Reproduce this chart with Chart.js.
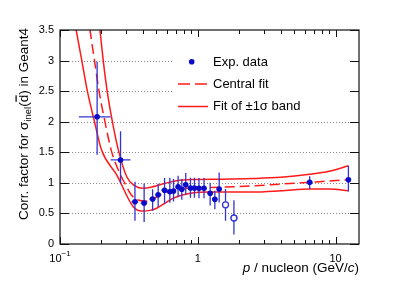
<!DOCTYPE html>
<html lang="en">
<head>
  <meta charset="UTF-8">
  <title>Correction factor</title>
  <script src="https://cdn.jsdelivr.net/npm/chart.js@4.4.1/dist/chart.umd.min.js"></script>
  <style>
    * { margin: 0; padding: 0; }
    body { background: #fff; width: 399px; height: 288px; overflow: hidden; }
  </style>
</head>
<body>
  <canvas id="corr" width="399" height="288"></canvas>

  <script>
    // measured points (filled markers)
    const momentum = [0.186, 0.275, 0.350, 0.408, 0.470, 0.516, 0.574, 0.627, 0.667, 0.720, 0.766, 0.818, 0.885, 0.946, 1.02, 1.11, 1.23, 1.33, 1.43, 6.49, 12.4];
    const momLow   = [0.137, 0.233, 0.330, 0.385, 0.445, 0.490, 0.545, 0.600, 0.640, 0.690, 0.735, 0.785, 0.850, 0.910, 0.98, 1.07, 1.18, 1.28, 1.37, 6.20, 11.9];
    const momHigh  = [0.233, 0.325, 0.370, 0.430, 0.495, 0.545, 0.605, 0.655, 0.695, 0.750, 0.800, 0.850, 0.920, 0.985, 1.06, 1.16, 1.28, 1.39, 1.49, 6.80, 12.9];
    const corr     = [2.08, 1.375, 0.69, 0.67, 0.735, 0.805, 0.88, 0.855, 0.865, 0.935, 0.895, 0.97, 0.915, 0.915, 0.91, 0.91, 0.83, 0.73, 0.90, 1.01, 1.05];
    const errLow   = [0.62, 0.38, 0.31, 0.31, 0.19, 0.20, 0.22, 0.18, 0.17, 0.17, 0.17, 0.17, 0.16, 0.16, 0.16, 0.16, 0.20, 0.16, 0.22, 0.11, 0.19];
    const errHigh  = [0.90, 0.47, 0.33, 0.32, 0.16, 0.18, 0.20, 0.23, 0.20, 0.18, 0.17, 0.19, 0.17, 0.17, 0.17, 0.17, 0.17, 0.14, 0.27, 0.10, 0.23];

    // open markers
    const openMom     = [1.59, 1.83];
    const openMomLow  = [1.50, 1.73];
    const openMomHigh = [1.68, 1.94];
    const openCorr    = [0.64, 0.425];
    const openErrLow  = [0.26, 0.27];
    const openErrHigh = [0.26, 0.29];

    // fits
    const centralP = [0.154, 0.165, 0.178, 0.192, 0.212, 0.235, 0.265, 0.296, 0.33, 0.37, 0.42, 0.48, 0.55, 0.65, 0.80, 1.0, 1.5, 2.5, 4.0, 6.5, 9.0, 12.4];
    const centralV = [4.0, 3.5, 3.0, 2.5, 2.0, 1.54, 1.21, 0.99, 0.80, 0.72, 0.70, 0.74, 0.82, 0.88, 0.91, 0.92, 0.93, 0.95, 0.98, 1.01, 1.03, 1.05];
    const upperP = [0.185, 0.195, 0.206, 0.22, 0.24, 0.265, 0.305, 0.35, 0.403, 0.46, 0.532, 0.70, 0.93, 1.5, 2.5, 4.0, 6.5, 9.0, 12.4];
    const upperV = [4.0, 3.5, 3.0, 2.5, 2.0, 1.54, 1.10, 0.95, 0.91, 0.93, 0.97, 1.036, 1.055, 1.06, 1.07, 1.09, 1.14, 1.19, 1.28];
    const lowerP = [0.119, 0.131, 0.144, 0.158, 0.178, 0.20, 0.258, 0.34, 0.392, 0.45, 0.503, 0.58, 0.665, 0.88, 1.23, 2.5, 4.0, 6.5, 9.0, 12.4];
    const lowerV = [4.0, 3.5, 3.0, 2.5, 2.0, 1.54, 1.13, 0.61, 0.54, 0.55, 0.584, 0.67, 0.75, 0.83, 0.85, 0.85, 0.87, 0.90, 0.90, 0.87];

    const yTicks = [0, 0.5, 1, 1.5, 2, 2.5, 3, 3.5];
    const yTickLabels = ['0', '0.5', '1', '1.5', '2', '2.5', '3', '3.5'];

    const font = "'Liberation Sans', Arial, sans-serif";
    const red = '#ff1a1a';
    const blue = '#0a0ac8';
    const barBlue = '#3434d4';

    function pts(xs, ys) {
      return xs.map((x, i) => ({ x: x, y: ys[i] }));
    }

    function drawErrors(ctx, xs, xl, xh, ys, el, eh, sx, sy) {
      ctx.save();
      ctx.strokeStyle = barBlue;
      ctx.lineWidth = 1.3;
      for (let i = 0; i < xs.length; i++) {
        const px = sx.getPixelForValue(xs[i]);
        const py = sy.getPixelForValue(ys[i]);
        ctx.beginPath();
        ctx.moveTo(px, sy.getPixelForValue(ys[i] - el[i]));
        ctx.lineTo(px, sy.getPixelForValue(ys[i] + eh[i]));
        ctx.moveTo(sx.getPixelForValue(xl[i]), py);
        ctx.lineTo(sx.getPixelForValue(xh[i]), py);
        ctx.stroke();
      }
      ctx.restore();
    }

    // draws text pieces one after another, returns total width
    function runs(ctx, parts, x, y, measureOnly) {
      let w = 0;
      parts.forEach(p => {
        ctx.font = p.f;
        const tw = ctx.measureText(p.t).width;
        if (!measureOnly) {
          ctx.fillText(p.t, x + w, y + (p.dy || 0));
          if (p.bar) {
            ctx.fillRect(x + w + 0.5, y - 12.5, tw - 1, 1.2);
          }
        }
        w += tw;
      });
      return w;
    }

    const rootStyle = {
      id: 'rootStyle',
      beforeDatasetsDraw(chart) {
        const { ctx, chartArea: a } = chart;
        const sy = chart.scales.y;
        ctx.save();
        ctx.strokeStyle = '#8a8a8a';
        ctx.lineWidth = 1;
        ctx.setLineDash([1, 2]);
        yTicks.forEach(v => {
          if (v <= 0 || v >= 3.5) return;
          const y = Math.round(sy.getPixelForValue(v)) + 0.5;
          ctx.beginPath();
          ctx.moveTo(a.left, y);
          ctx.lineTo(a.right, y);
          ctx.stroke();
        });
        ctx.restore();
      },
      beforeDatasetDraw(chart, args) {
        if (args.index !== 4) return;
        const { ctx, chartArea: a } = chart;
        const sx = chart.scales.x, sy = chart.scales.y;
        ctx.save();
        ctx.beginPath();
        ctx.rect(a.left, a.top, a.right - a.left, a.bottom - a.top);
        ctx.clip();
        drawErrors(ctx, momentum, momLow, momHigh, corr, errLow, errHigh, sx, sy);
        drawErrors(ctx, openMom, openMomLow, openMomHigh, openCorr, openErrLow, openErrHigh, sx, sy);
        ctx.restore();
      },
      afterDraw(chart) {
        const { ctx, chartArea: a } = chart;
        const sx = chart.scales.x, sy = chart.scales.y;
        ctx.save();

        // legend
        ctx.fillStyle = '#fff';
        ctx.fillRect(172, 42, a.right - 172 - 1, 74);
        ctx.fillStyle = blue;
        ctx.beginPath();
        ctx.arc(191.7, 61.7, 2.8, 0, Math.PI * 2);
        ctx.fill();
        ctx.strokeStyle = red;
        ctx.lineWidth = 1.5;
        ctx.setLineDash([12, 5]);
        ctx.beginPath();
        ctx.moveTo(178, 84); ctx.lineTo(208, 84);
        ctx.stroke();
        ctx.setLineDash([]);
        ctx.beginPath();
        ctx.moveTo(178, 106.5); ctx.lineTo(208, 106.5);
        ctx.stroke();
        ctx.fillStyle = '#000';
        ctx.font = '13px ' + font;
        ctx.textBaseline = 'middle';
        ctx.textAlign = 'left';
        ctx.fillText('Exp. data', 213, 62);
        ctx.fillText('Central fit', 213, 84);
        ctx.fillText('Fit of \u00b11\u03c3 band', 213, 106.5);

        // frame
        ctx.strokeStyle = '#111';
        ctx.lineWidth = 1.2;
        ctx.strokeRect(a.left, a.top, a.right - a.left, a.bottom - a.top);

        // y ticks both sides
        ctx.lineWidth = 1;
        ctx.beginPath();
        yTicks.forEach(v => {
          const y = Math.round(sy.getPixelForValue(v)) + 0.5;
          ctx.moveTo(a.left, y); ctx.lineTo(a.left + 9, y);
          ctx.moveTo(a.right, y); ctx.lineTo(a.right - 9, y);
        });
        // x ticks (log), top and bottom
        [0.1, 1, 10].forEach(dec => {
          for (let m = 1; m <= 9; m++) {
            const v = dec * m;
            if (v < sx.min || v > sx.max) continue;
            const x = Math.round(sx.getPixelForValue(v)) + 0.5;
            const len = m === 1 ? 7 : 4;
            ctx.moveTo(x, a.bottom); ctx.lineTo(x, a.bottom - len);
            ctx.moveTo(x, a.top); ctx.lineTo(x, a.top + len);
          }
        });
        ctx.stroke();

        // y tick labels
        ctx.fillStyle = '#000';
        ctx.font = '11px ' + font;
        ctx.textAlign = 'right';
        ctx.textBaseline = 'middle';
        yTicks.forEach((v, i) => {
          ctx.fillText(yTickLabels[i], 54, sy.getPixelForValue(v));
        });

        // x tick labels
        ctx.textAlign = 'center';
        ctx.textBaseline = 'alphabetic';
        ctx.fillText('1', sx.getPixelForValue(1), 262);
        ctx.fillText('10', sx.getPixelForValue(10), 262);
        ctx.textAlign = 'left';
        const w10 = ctx.measureText('10').width;
        ctx.font = '8px ' + font;
        const wExp = ctx.measureText('\u22121').width;
        const x0 = sx.getPixelForValue(0.1) - (w10 + wExp) / 2;
        ctx.font = '11px ' + font;
        ctx.fillText('10', x0, 262);
        ctx.font = '8px ' + font;
        ctx.fillText('\u22121', x0 + w10, 256);

        // x title, right aligned
        const reg = '13.5px ' + font, ita = 'italic 13.5px ' + font;
        const xParts = [
          { t: 'p', f: ita },
          { t: ' / nucleon (GeV/', f: reg },
          { t: 'c', f: ita },
          { t: ')', f: reg }
        ];
        const xw = runs(ctx, xParts, 0, 0, true);
        runs(ctx, xParts, a.right - xw, 272);

        // y title, rotated, right aligned to top
        const sub = '9.5px ' + font;
        const yParts = [
          { t: 'Corr. factor for \u03c3', f: reg },
          { t: 'inel', f: sub, dy: 3 },
          { t: '(', f: reg },
          { t: 'd', f: reg, bar: true },
          { t: ') in Geant4', f: reg }
        ];
        const yw = runs(ctx, yParts, 0, 0, true);
        ctx.translate(28, 28);
        ctx.rotate(-Math.PI / 2);
        runs(ctx, yParts, -yw, 0);

        ctx.restore();
      }
    };

    const config = {
      type: 'scatter',
      data: {
        datasets: [
          {
            label: 'Exp. data',
            data: pts(momentum, corr),
            pointRadius: 2.8,
            pointHoverRadius: 2.8,
            pointBackgroundColor: blue,
            pointBorderColor: blue,
            pointBorderWidth: 0,
            showLine: false,
            order: 1
          },
          {
            label: 'Central fit',
            data: pts(centralP, centralV),
            showLine: true,
            borderColor: red,
            borderWidth: 1.5,
            borderDash: [10, 5],
            pointRadius: 0,
            cubicInterpolationMode: 'monotone',
            order: 2
          },
          {
            label: 'Upper band',
            data: pts(upperP, upperV),
            showLine: true,
            borderColor: red,
            borderWidth: 1.5,
            pointRadius: 0,
            cubicInterpolationMode: 'monotone',
            order: 2
          },
          {
            label: 'Lower band',
            data: pts(lowerP, lowerV),
            showLine: true,
            borderColor: red,
            borderWidth: 1.5,
            pointRadius: 0,
            cubicInterpolationMode: 'monotone',
            order: 2
          },
          {
            label: 'Open points',
            data: pts(openMom, openCorr),
            pointRadius: 3,
            pointHoverRadius: 3,
            pointBackgroundColor: '#fff',
            pointBorderColor: barBlue,
            pointBorderWidth: 1.3,
            showLine: false,
            order: 1
          }
        ]
      },
      options: {
        responsive: false,
        animation: false,
        events: [],
        layout: { padding: { left: 60, top: 30, right: 40, bottom: 44 } },
        plugins: {
          legend: { display: false },
          tooltip: { enabled: false }
        },
        scales: {
          x: { type: 'logarithmic', min: 0.1, max: 14.8, display: false },
          y: { type: 'linear', min: 0, max: 3.5, display: false }
        }
      },
      plugins: [rootStyle]
    };

    const corrChart = new Chart(document.getElementById('corr').getContext('2d'), config);
  </script>
</body>
</html>
